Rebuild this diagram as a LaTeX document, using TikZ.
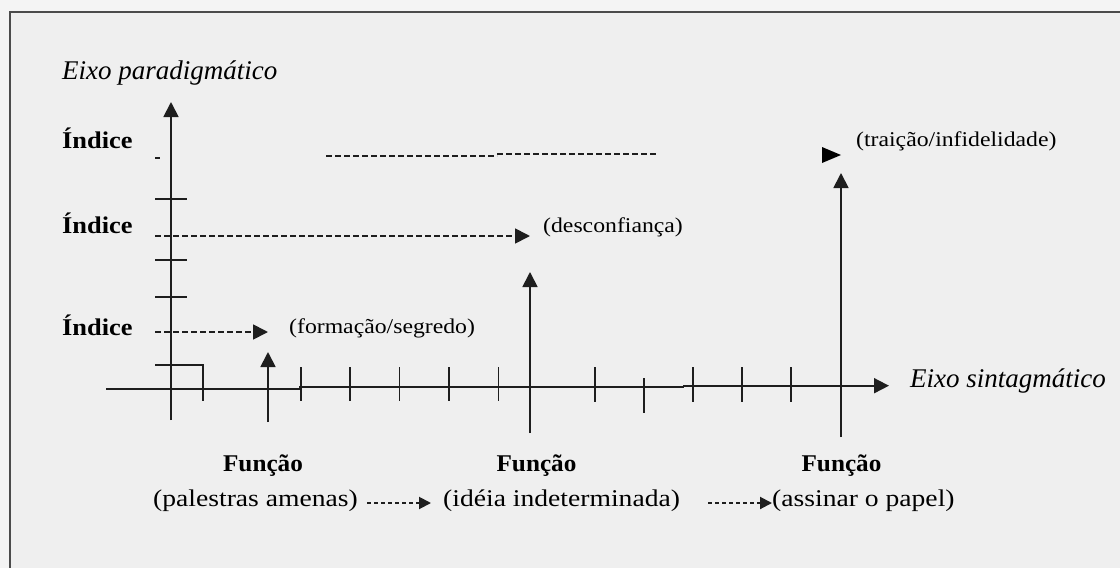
\documentclass[tikz,border=0pt]{standalone}
\usepackage{graphicx}
\usepackage{fontspec}
\setmainfont{Liberation Serif}
\usetikzlibrary{arrows.meta}
\definecolor{bgout}{HTML}{F4F4F4}
\definecolor{bgin}{HTML}{EFEFEF}
\definecolor{ink}{HTML}{1E1E1E}
\newcommand\wx[1]{\scalebox{1.13}[1]{#1}}
\newcommand\wy[1]{\scalebox{1.15}[1]{#1}}
\newcommand\wi[1]{\scalebox{1.1}[1]{#1}}
\newcommand\wf[1]{\scalebox{1.05}[1]{#1}}
\tikzset{
  ln/.style={draw=ink, line width=1.8pt},
  tip/.style={-{Triangle[length=15pt,width=15pt]}},
  dsh/.style={draw=ink, line width=1.7pt, dash pattern=on 6pt off 3pt},
  smalldsh/.style={draw=ink, line width=2pt, dash pattern=on 4pt off 3pt, -{Triangle[length=12pt,width=12pt]}},
  axlbl/.style={inner sep=0pt, font=\fontsize{27}{30}\selectfont\itshape},
  idx/.style={inner sep=0pt, font=\fontsize{24}{27}\selectfont\bfseries},
  upl/.style={inner sep=0pt, anchor=west, font=\fontsize{21}{24}\selectfont},
  lowl/.style={inner sep=0pt, anchor=west, font=\fontsize{24}{27}\selectfont},
}
\begin{document}
\begin{tikzpicture}[x=1pt,y=-1pt]
\useasboundingbox (0,0) rectangle (1120,568);
\fill[bgout] (0,0) rectangle (1120,568);
\fill[bgin] (10,12) rectangle (1120,568);
\draw[draw=ink!80, line width=2pt] (10,568) -- (10,12) -- (1120,12);

% coordinates
\coordinate (vb) at (171,420);
\coordinate (vt) at (171,102);
\coordinate (h1) at (106,389.3);
\coordinate (h2) at (300,389.3);
\coordinate (h3) at (300,387.3);
\coordinate (h4) at (683,387.3);
\coordinate (h5) at (683,385.7);
\coordinate (h6) at (889,385.7);

% axes
\draw[ln, tip] (vb) -- (vt);
\draw[ln] (h1) -- (h2) -- (h3) -- (h4) -- (h5);
\draw[ln, tip] (h5) -- (h6);

% vertical axis ticks
\draw[ln] (155,158) -- (160,158);
\foreach \yy in {199,260,297} \draw[ln] (155,\yy) -- (187,\yy);
\draw[ln] (155,365) -- (203,365) -- (203,401);

% horizontal axis ticks
\foreach \xx in {301,350,399.5,449,498.5} \draw[ln] (\xx,367) -- (\xx,401);
\foreach \xx in {595,693,742,791} \draw[ln] (\xx,367) -- (\xx,402);
\draw[ln] (644,378) -- (644,413);

% function arrows
\coordinate (f1b) at (268,422); \coordinate (f1t) at (268,352);
\coordinate (f2b) at (530,433); \coordinate (f2t) at (530,272);
\coordinate (f3b) at (841,437); \coordinate (f3t) at (841,173);
\draw[ln, tip] (f1b) -- (f1t);
\draw[ln, tip] (f2b) -- (f2t);
\draw[ln, tip] (f3b) -- (f3t);

% index dashed arrows
\coordinate (d2a) at (155,236); \coordinate (d2b) at (530,236);
\coordinate (d3a) at (155,332); \coordinate (d3b) at (268,332);
\draw[dsh, tip] (d2a) -- (d2b);
\draw[dsh, tip] (d3a) -- (d3b);
\coordinate (d1a) at (326,156); \coordinate (d1m) at (497,156);
\coordinate (d1n) at (497,154); \coordinate (d1b) at (656,154);
\draw[dsh] (d1a) -- (d1m);
\draw[dsh] (d1n) -- (d1b);
\fill[black] (822,147) -- (841,155) -- (822,163) -- cycle;

% labels
\node[axlbl, anchor=base west] (ep) at (62,79) {Eixo paradigmático};
\node[axlbl, anchor=base west] (es) at (910,387) {Eixo sintagmático};
\node[idx, anchor=base west] (i1) at (62,148) {\wi{Índice}};
\node[idx, anchor=base west] (i2) at (62,233) {\wi{Índice}};
\node[idx, anchor=base west] (i3) at (62,335) {\wi{Índice}};
\node[upl] (l3) at (289,328) {\wx{(formação/segredo)}};
\node[upl] (l2) at (543,227) {\wx{(desconfiança)}};
\node[upl] (l1) at (856,141) {\wx{(traição/infidelidade)}};
\node[idx, anchor=base] (fn1) at (263,471) {\wf{Função}};
\node[idx, anchor=base] (fn2) at (536.5,471) {\wf{Função}};
\node[idx, anchor=base] (fn3) at (841.5,471) {\wf{Função}};
\node[lowl] (p1) at (153,501) {\wy{(palestras amenas)}};
\node[lowl] (p2) at (443,501) {\wy{(idéia indeterminada)}};
\node[lowl] (p3) at (772,501) {\wy{(assinar o papel)}};
\draw[smalldsh] (367,503) -- (431,503);
\draw[smalldsh] (708,503) -- (p3.west |- 0,503);
\end{tikzpicture}
\end{document}
